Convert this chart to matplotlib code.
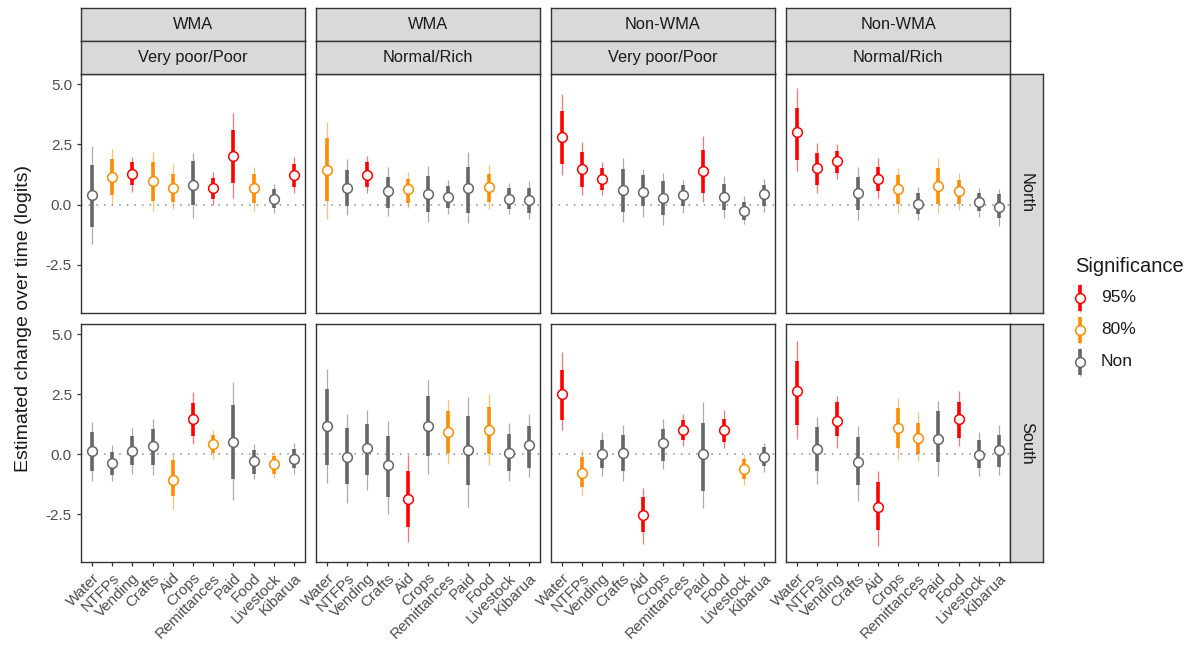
import numpy as np
import matplotlib.pyplot as plt

plt.rcParams['font.family'] = ['Liberation Sans', 'DejaVu Sans']

# %%
# Data
categories = ['Water', 'NTFPs', 'Vending', 'Crafts', 'Aid', 'Crops',
              'Remittances', 'Paid', 'Food', 'Livestock', 'Kibarua']
mgmt = ['WMA', 'WMA', 'Non-WMA', 'Non-WMA']
wealth = ['Very poor/Poor', 'Normal/Rich', 'Very poor/Poor', 'Normal/Rich']
regions = ['North', 'South']
levels = ['95%', '80%', 'Non']

# North row
n_est = [
    [0.39, 1.15, 1.26, 0.96, 0.69, 0.83, 0.68, 2.00, 0.69, 0.25, 1.22],
    [1.43, 0.68, 1.24, 0.56, 0.63, 0.43, 0.32, 0.69, 0.72, 0.22, 0.17],
    [2.82, 1.47, 1.08, 0.61, 0.54, 0.29, 0.38, 1.38, 0.31, -0.26, 0.42],
    [3.01, 1.51, 1.82, 0.46, 1.08, 0.63, 0.03, 0.78, 0.56, 0.11, -0.08],
]
n_lo80 = [
    [-0.92, 0.39, 0.82, 0.15, 0.11, 0.00, 0.22, 0.88, 0.08, -0.13, 0.71],
    [0.13, -0.07, 0.75, -0.14, 0.08, -0.31, -0.14, -0.36, 0.11, -0.17, -0.36],
    [1.68, 0.75, 0.61, -0.31, -0.06, -0.43, -0.06, 0.47, -0.22, -0.64, -0.06],
    [1.86, 0.81, 1.33, -0.24, 0.57, 0.01, -0.40, 0.04, 0.01, -0.26, -0.56],
]
n_hi80 = [
    [1.65, 1.89, 1.75, 1.75, 1.29, 1.79, 1.10, 3.10, 1.25, 0.64, 1.68],
    [2.76, 1.43, 1.75, 1.15, 1.08, 1.17, 0.78, 1.56, 1.29, 0.68, 0.68],
    [3.88, 2.17, 1.53, 1.47, 1.24, 0.99, 0.81, 2.26, 0.86, 0.11, 0.82],
    [4.01, 2.13, 2.24, 1.15, 1.58, 1.22, 0.47, 1.50, 1.03, 0.47, 0.42],
]
n_lo95 = [
    [-1.65, 0.00, 0.53, -0.26, -0.17, -0.54, 0.00, 0.29, -0.26, -0.36, 0.50],
    [-0.58, -0.43, 0.47, -0.47, -0.13, -0.71, -0.40, -0.75, -0.17, -0.40, -0.61],
    [1.22, 0.39, 0.39, -0.71, -0.51, -0.86, -0.33, 0.11, -0.56, -0.82, -0.31],
    [1.40, 0.50, 1.06, -0.64, 0.28, -0.33, -0.64, -0.33, -0.22, -0.51, -0.89],
]
n_hi95 = [
    [2.44, 2.30, 1.96, 2.19, 1.68, 2.13, 1.36, 3.80, 1.57, 0.85, 1.99],
    [3.42, 1.89, 2.01, 1.54, 1.36, 1.60, 1.00, 2.17, 1.63, 0.88, 0.96],
    [4.60, 2.58, 1.75, 1.93, 1.47, 1.31, 1.01, 2.86, 1.19, 0.36, 1.08],
    [4.83, 2.56, 2.51, 1.54, 1.93, 1.50, 0.74, 1.92, 1.33, 0.68, 0.64],
]
n_sig = [
    ['Non', '80%', '95%', '80%', '80%', 'Non', '95%', '95%', '80%', 'Non', '95%'],
    ['80%', 'Non', '95%', 'Non', '80%', 'Non', 'Non', 'Non', '80%', 'Non', 'Non'],
    ['95%', '95%', '95%', 'Non', 'Non', 'Non', 'Non', '95%', 'Non', 'Non', 'Non'],
    ['95%', '95%', '95%', 'Non', '95%', '80%', 'Non', '80%', '80%', 'Non', 'Non'],
]

# South row
s_est = [
    [0.11, -0.38, 0.13, 0.35, -1.08, 1.47, 0.43, 0.50, -0.31, -0.43, -0.19],
    [1.18, -0.13, 0.26, -0.46, -1.88, 1.18, 0.93, 0.15, 1.01, 0.04, 0.36],
    [2.50, -0.78, 0.01, 0.06, -2.53, 0.44, 1.01, 0.00, 1.01, -0.63, -0.13],
    [2.63, 0.22, 1.38, -0.35, -2.22, 1.08, 0.65, 0.63, 1.46, -0.03, 0.15],
]
s_lo80 = [
    [-0.69, -0.88, -0.47, -0.47, -1.76, 0.74, 0.04, -1.04, -0.82, -0.82, -0.60],
    [-0.47, -1.25, -0.86, -1.79, -3.04, -0.07, 0.04, -1.31, 0.00, -0.72, -0.58],
    [1.40, -1.38, -0.58, -0.72, -3.26, -0.28, 0.57, -1.53, 0.50, -1.04, -0.51],
    [1.22, -0.69, 0.74, -1.29, -3.18, 0.25, 0.00, -0.35, 0.65, -0.60, -0.56],
]
s_hi80 = [
    [0.92, 0.07, 0.76, 1.06, -0.26, 2.13, 0.79, 2.06, 0.15, -0.10, 0.21],
    [2.72, 1.08, 1.26, 0.76, -0.72, 2.43, 1.81, 1.60, 1.96, 0.83, 1.15],
    [3.51, -0.13, 0.60, 0.78, -1.81, 1.06, 1.40, 1.29, 1.47, -0.21, 0.28],
    [3.86, 1.13, 2.17, 0.71, -1.18, 1.92, 1.29, 1.78, 2.15, 0.57, 0.78],
]
s_lo95 = [
    [-1.11, -1.14, -0.82, -0.86, -2.28, 0.43, -0.21, -1.90, -1.04, -1.00, -0.82],
    [-1.21, -2.04, -1.49, -2.50, -3.68, -0.82, -0.40, -2.22, -0.46, -1.14, -0.97],
    [1.01, -1.72, -0.93, -1.14, -3.74, -0.63, 0.32, -2.25, 0.25, -1.28, -0.74],
    [0.63, -1.24, 0.24, -1.97, -3.85, -0.26, -0.31, -0.93, 0.35, -0.93, -0.86],
]
s_hi95 = [
    [1.32, 0.36, 1.08, 1.46, 0.00, 2.58, 1.01, 3.00, 0.42, 0.10, 0.46],
    [3.56, 1.67, 1.85, 1.39, -0.06, 3.07, 2.26, 2.36, 2.51, 1.29, 1.68],
    [4.25, 0.15, 0.92, 1.22, -1.42, 1.46, 1.68, 2.17, 1.85, 0.00, 0.46],
    [4.72, 1.53, 2.43, 1.15, -0.69, 2.35, 1.74, 2.19, 2.61, 0.92, 1.19],
]
s_sig = [
    ['Non', 'Non', 'Non', 'Non', '80%', '95%', '80%', 'Non', 'Non', '80%', 'Non'],
    ['Non', 'Non', 'Non', 'Non', '95%', 'Non', '80%', 'Non', '80%', 'Non', 'Non'],
    ['95%', '80%', 'Non', 'Non', '95%', 'Non', '95%', 'Non', '95%', '80%', 'Non'],
    ['95%', 'Non', '95%', 'Non', '95%', '80%', '80%', 'Non', '95%', 'Non', 'Non'],
]

rows = [
    (n_est, n_lo80, n_hi80, n_lo95, n_hi95, n_sig),
    (s_est, s_lo80, s_hi80, s_lo95, s_hi95, s_sig),
]

colours = {'95%': '#FF0000', '80%': '#FF8C00', 'Non': '#666666'}

# %%
W, H = 1198, 649
fig = plt.figure(figsize=(W / 100, H / 100), dpi=100)

panel_left = [81, 316, 551, 786]
panel_w = 224
row_top = [74, 324]
row_h = [239, 238]
strip_h = 33
frame_col = '#333333'
strip_fill = '#D9D9D9'


def fig_box(x, y, w, h):
    return [x / W, 1 - (y + h) / H, w / W, h / H]


def strip(x, y, w, h, text, rotation=0):
    s = fig.add_axes(fig_box(x, y, w, h))
    s.set_facecolor(strip_fill)
    s.set_xticks([])
    s.set_yticks([])
    for sp in s.spines.values():
        sp.set_color(frame_col)
        sp.set_linewidth(1.0)
    s.text(0.5, 0.5, text, ha='center', va='center', rotation=rotation,
           fontsize=11.8, color='#1A1A1A', transform=s.transAxes)


def draw_interval(ax, x, est, lo80, hi80, lo95, hi95, sig):
    c = colours[sig]
    ax.plot([x, x], [lo95, hi95], color=c, lw=0.9, alpha=0.55,
            solid_capstyle='butt', zorder=2)
    ax.plot([x, x], [lo80, hi80], color=c, lw=2.6,
            solid_capstyle='butt', zorder=3)
    ax.plot(x, est, 'o', ms=7, mfc='white', mec=c, mew=1.1, zorder=4)


xpos = np.arange(len(categories))

for r, (est, lo80, hi80, lo95, hi95, sig) in enumerate(rows):
    for c in range(4):
        ax = fig.add_axes(fig_box(panel_left[c], row_top[r], panel_w, row_h[r]))
        ax.axhline(0, color='#8C8C8C', lw=1.1, ls=(0, (1, 4)), zorder=1)
        for i in xpos:
            draw_interval(ax, i, est[c][i], lo80[c][i], hi80[c][i],
                          lo95[c][i], hi95[c][i], sig[c][i])
        ax.set_xlim(-0.55, len(categories) - 0.45)
        ax.set_ylim(-4.5, 5.42)
        ax.set_yticks([-2.5, 0, 2.5, 5.0])
        ax.set_xticks(xpos)
        for sp in ax.spines.values():
            sp.set_color(frame_col)
            sp.set_linewidth(1.0)
        ax.tick_params(colors=frame_col, length=3, width=0.9,
                       labelcolor='#4D4D4D', labelsize=11)
        if c == 0:
            ax.set_yticklabels(['-2.5', '0.0', '2.5', '5.0'])
        else:
            ax.tick_params(axis='y', length=0, labelleft=False)
        if r == 1:
            ax.set_xticklabels(categories, rotation=45, ha='right',
                               rotation_mode='anchor')
        else:
            ax.tick_params(axis='x', length=0, labelbottom=False)

        if r == 0:
            strip(panel_left[c], row_top[0] - 2 * strip_h, panel_w, strip_h, mgmt[c])
            strip(panel_left[c], row_top[0] - strip_h, panel_w, strip_h, wealth[c])
    strip(panel_left[3] + panel_w, row_top[r], strip_h, row_h[r], regions[r],
          rotation=-90)

fig.text(24 / W, 1 - 318 / H, 'Estimated change over time (logits)',
         rotation=90, ha='center', va='center', fontsize=14, color='#1A1A1A')

# legend
fig.text(1075 / W, 1 - 266 / H, 'Significance', ha='left', va='center',
         fontsize=14.5, color='#1A1A1A')
leg = fig.add_axes(fig_box(1065, 282, 30, 96))
for k, lev in enumerate(levels):
    draw_interval(leg, 0, -k, -k - 0.4, -k + 0.4, -k - 0.45, -k + 0.45, lev)
    leg.text(0.7, -k, lev, ha='left', va='center', fontsize=12.5,
             color='#1A1A1A', transform=leg.transData)
leg.set_xlim(-0.5, 0.5)
leg.set_ylim(-2.5, 0.5)
leg.axis('off')

fig.savefig('out.png', dpi=100)
